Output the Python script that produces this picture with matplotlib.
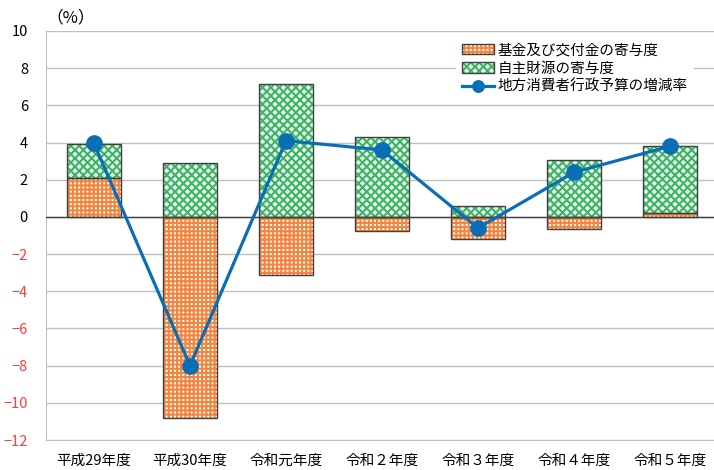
import numpy as np
import matplotlib
matplotlib.use("Agg")
import matplotlib.pyplot as plt

plt.rcParams['font.family'] = ['Noto Sans CJK JP', 'DejaVu Sans']
plt.rcParams['hatch.linewidth'] = 1.5

# Fiscal years and contributions (%)
years = ['平成29年度', '平成30年度', '令和元年度', '令和２年度',
         '令和３年度', '令和４年度', '令和５年度']
fund_contrib = [2.1, -10.8, -3.1, -0.75, -1.2, -0.65, 0.2]
own_contrib = [1.8, 2.9, 7.15, 4.3, 0.6, 3.05, 3.6]
growth_rate = [3.95, -8.0, 4.1, 3.6, -0.6, 2.4, 3.8]

labels = ['基金及び交付金の寄与度', '自主財源の寄与度', '地方消費者行政予算の増減率']

ORANGE = '#F4853F'
GREEN = '#3DB466'
BLUE = '#0A6EB4'
GRID = '#BFBFBF'

x = np.arange(len(years))
width = 0.5625

# stack positives upward from zero, negatives downward
pos = np.zeros(len(years))
neg = np.zeros(len(years))
bottoms = []
for series in (fund_contrib, own_contrib):
    v = np.array(series, dtype=float)
    b = np.where(v >= 0, pos, neg)
    bottoms.append(b)
    pos = pos + np.where(v >= 0, v, 0)
    neg = neg + np.where(v < 0, v, 0)

fig = plt.figure(figsize=(7.14, 4.70), dpi=100)
ax = fig.add_axes([46 / 714, 1 - 440 / 470, 1 - 46 / 714, 409 / 470])

bar_f = ax.bar(x, fund_contrib, width, bottom=bottoms[0], color='white',
               edgecolor=ORANGE, hatch='++++', linewidth=0, zorder=2)
out_f = ax.bar(x, fund_contrib, width, bottom=bottoms[0], fill=False,
               edgecolor='#404040', linewidth=1, zorder=3)
bar_o = ax.bar(x, own_contrib, width, bottom=bottoms[1], color='#E9F6EC',
               edgecolor=GREEN, hatch='xxxx', linewidth=0, zorder=2)
out_o = ax.bar(x, own_contrib, width, bottom=bottoms[1], fill=False,
               edgecolor='#404040', linewidth=1, zorder=3)

line, = ax.plot(x, growth_rate, color=BLUE, linewidth=2.3, marker='o',
                markersize=11, zorder=5)

ax.axhline(0, color='#404040', linewidth=1, zorder=4)

ax.set_ylim(-12, 10)
ax.set_yticks(np.arange(-12, 11, 2))
ax.set_xlim(-0.5, 6.5 - 4 / 96)
ax.set_xticks(x)
ax.set_xticklabels(years, fontsize=10.5)
ax.yaxis.grid(True, color=GRID, linewidth=1, zorder=0)
ax.set_axisbelow(True)
ax.tick_params(axis='both', length=0)
ax.tick_params(axis='y', pad=13, labelsize=10.5)
ax.tick_params(axis='x', pad=10)

for lbl, val in zip(ax.get_yticklabels(), ax.get_yticks()):
    lbl.set_color('#FF3B3B' if val < 0 else 'black')

for side in ('top', 'right'):
    ax.spines[side].set_visible(False)
ax.spines['left'].set_color(GRID)
ax.spines['bottom'].set_color(GRID)

fig.text(46 / 714, 1 - 18 / 470, '（%）', fontsize=12, va='center', ha='left')

leg = ax.legend([(bar_f[0], out_f[0]), (bar_o[0], out_o[0]), line], labels,
                loc='upper left', bbox_to_anchor=(449 / 714, 1 - 30 / 470),
                bbox_transform=fig.transFigure, fontsize=10.5,
                frameon=True, framealpha=1, edgecolor='none', fancybox=False,
                handlelength=2.2, handletextpad=0.25, labelspacing=0.3,
                borderpad=0.4, markerscale=0.75)
leg.set_zorder(10)

fig.savefig('out.png', dpi=100)
